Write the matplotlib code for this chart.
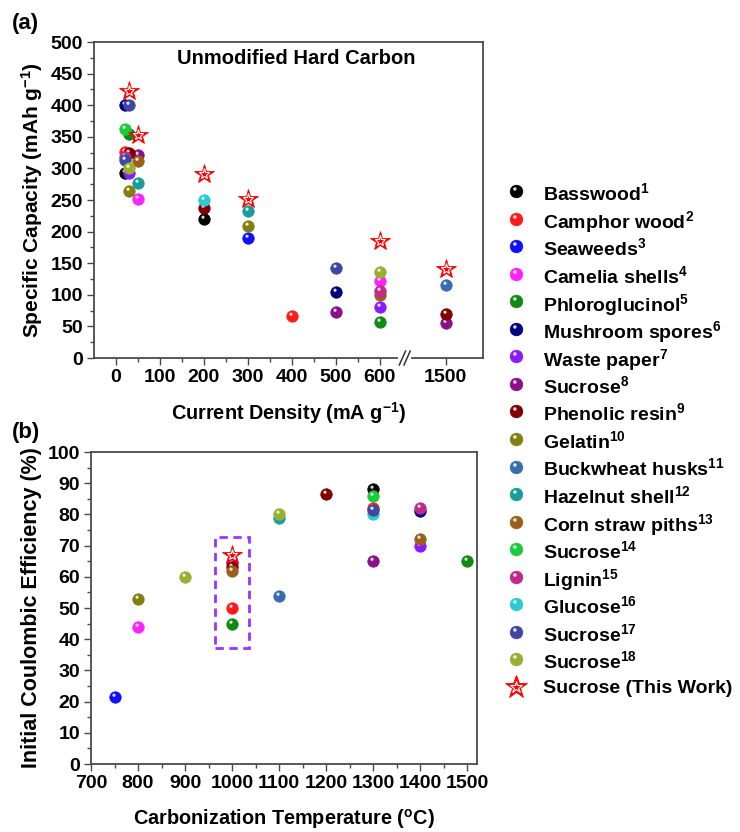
import numpy as np
import matplotlib
matplotlib.use("Agg")
import matplotlib.pyplot as plt
from matplotlib.path import Path
from matplotlib.patches import Rectangle
from matplotlib.ticker import MultipleLocator, FixedLocator

plt.rcParams['font.family'] = ['Liberation Sans', 'DejaVu Sans']
plt.rcParams['font.weight'] = 'bold'
plt.rcParams['axes.labelweight'] = 'bold'
plt.rcParams['mathtext.fontset'] = 'custom'
plt.rcParams['mathtext.rm'] = 'Liberation Sans:bold'
plt.rcParams['mathtext.bf'] = 'Liberation Sans:bold'
plt.rcParams['mathtext.default'] = 'bf'

# --- literature data -------------------------------------------------------
names = ["Basswood", "Camphor wood", "Seaweeds", "Camelia shells", "Phloroglucinol",
         "Mushroom spores", "Waste paper", "Sucrose", "Phenolic resin", "Gelatin",
         "Buckwheat husks", "Hazelnut shell", "Corn straw piths", "Sucrose", "Lignin",
         "Glucose", "Sucrose", "Sucrose"]
colors = ["#000000", "#ff1a1a", "#1010ff", "#ff22ff", "#108a10",
          "#000080", "#8a1aff", "#8a108a", "#800000", "#808010",
          "#3a6db0", "#1a9c9c", "#9c5f1a", "#1acc3a", "#c02a8a",
          "#2acad0", "#3f48a0", "#98b030"]

# current density (mA/g) and specific capacity (mAh/g)
rate = [[20, 200], [20, 400], [300], [50, 600], [30, 600],
        [20, 500], [30, 600], [50, 500, 1500], [30, 200, 1500], [30, 300],
        [1500], [50, 300], [50, 600], [20], [20, 600],
        [200], [30, 20, 500], [30, 600]]
capacity = [[293, 220], [326, 67], [190], [251, 122], [355, 57],
            [400, 104], [293, 81], [322, 73, 55], [324, 237, 70], [264, 209],
            [116], [277, 233], [311, 100], [362], [318, 106],
            [250], [400, 313, 142], [300, 136]]

# carbonization temperature (C) and initial coulombic efficiency (%)
temp = [[1300], [1000, 1300], [750], [800], [1000, 1500],
        [1400], [1400, 1000], [1300], [1200, 1000], [800],
        [1100], [1100], [1000, 1400], [1300], [1400],
        [1300], [1300], [900, 1100]]
ice = [[88], [50, 82], [21.5], [44], [45, 65],
       [81], [70, 64.5], [65], [86.5, 63], [53],
       [54], [79], [62, 72], [86], [82],
       [80], [81.5], [60, 80]]

# this work
work_rate = [30, 50, 200, 300, 600, 1500]
work_cap = [423, 353, 291, 252, 185, 141]
work_temp = [1000]
work_ice = [67]

rate_ticks = [0, 100, 200, 300, 400, 500, 600, 1500]


def cd_pos(v):
    # compress the axis between 600 and 1500 mA/g
    v = np.asarray(v, dtype=float)
    return np.where(v > 650, v - 750, v)


# small white spot sitting at the upper left of a ball marker
circ = Path.circle(center=(-0.13, 0.2), radius=0.14)
shine = Path(np.vstack([[0.5, 0.5], circ.vertices]),
             np.concatenate([[Path.MOVETO], circ.codes]))

MS = 8.2


def ball(ax, x, y, c, ms=MS, **kw):
    ax.plot(x, y, ls='none', marker='o', ms=ms, mfc=c, mec=c, mew=0.6, **kw)
    ax.plot(x, y, ls='none', marker=shine, ms=ms, mfc='white', mec='none',
            alpha=0.85, **kw)


def star(ax, x, y, ms=15, **kw):
    ax.plot(x, y, ls='none', marker='*', ms=ms, mfc='red', mec='red', mew=0.6,
            zorder=5, **kw)
    ax.plot(x, y, ls='none', marker='*', ms=ms * 0.53, mfc='none', mec='white',
            mew=0.8, zorder=6, **kw)


fig = plt.figure(figsize=(7.4, 8.32), dpi=100)
ax1 = fig.add_axes([0.127, 0.5697, 0.5257, 0.3798])
ax2 = fig.add_axes([0.123, 0.0817, 0.5216, 0.375])

for i in range(len(names)):
    ball(ax1, cd_pos(rate[i]), capacity[i], colors[i])
    ball(ax2, temp[i], ice[i], colors[i])
star(ax1, cd_pos(work_rate), work_cap)
star(ax2, work_temp, work_ice)

for ax in (ax1, ax2):
    for s in ax.spines.values():
        s.set_color('#4a4a4a')
        s.set_linewidth(1.3)
    ax.tick_params(which='both', direction='out', width=1.0, color='#4a4a4a',
                   labelsize=14, top=False, right=False)
    ax.tick_params(which='major', length=5, pad=3)
    ax.tick_params(which='minor', length=3)

# panel (a)
ax1.set_xlim(-50, 835)
ax1.set_ylim(0, 500)
ax1.xaxis.set_major_locator(FixedLocator(cd_pos(rate_ticks)))
ax1.set_xticklabels([str(t) for t in rate_ticks])
ax1.xaxis.set_minor_locator(FixedLocator(np.arange(50, 600, 100)))
ax1.yaxis.set_major_locator(MultipleLocator(50))
ax1.yaxis.set_minor_locator(MultipleLocator(25))
ax1.set_xlabel('Current Density (mA g$^{-1}$)', fontsize=14.3, labelpad=10)
ax1.set_ylabel('Specific Capacity (mAh g$^{-1}$)', fontsize=15, labelpad=4)
ax1.text(0.519, 0.949, 'Unmodified Hard Carbon', transform=ax1.transAxes,
         ha='center', va='center', fontsize=14.5)

# axis break marks
bx = (657 + 50) / 885
ax1.plot([bx - 0.012, bx + 0.012], [0, 0], color='white', lw=3,
         transform=ax1.transAxes, clip_on=False, zorder=10)
for dx in (-0.006, 0.006):
    ax1.plot([bx + dx - 0.008, bx + dx + 0.008], [-0.022, 0.022], color='#333333',
             lw=1.1, transform=ax1.transAxes, clip_on=False, zorder=11)

# panel (b)
ax2.set_xlim(700, 1521)
ax2.set_ylim(0, 100)
ax2.xaxis.set_major_locator(MultipleLocator(100))
ax2.xaxis.set_minor_locator(MultipleLocator(50))
ax2.yaxis.set_major_locator(MultipleLocator(10))
ax2.yaxis.set_minor_locator(MultipleLocator(5))
ax2.set_xlabel('Carbonization Temperature ($^{\\mathrm{o}}$C)', fontsize=14.3,
               labelpad=11)
ax2.set_ylabel('Initial Coulombic Efficiency (%)', fontsize=15.5, labelpad=4)
ax2.add_patch(Rectangle((964, 37.2), 72, 35.6, fill=False, ls=(0, (3, 2)),
                        ec='#9933ff', lw=2, zorder=1))

fig.text(0.016, 0.972, '(a)', fontsize=16, va='center')
fig.text(0.016, 0.480, '(b)', fontsize=16, va='center')

# legend drawn on a pixel-space overlay
lax = fig.add_axes([0, 0, 1, 1])
lax.set_xlim(0, 740)
lax.set_ylim(832, 0)
lax.axis('off')
labels = [f'{n}$^{{{i + 1}}}$' for i, n in enumerate(names)]
row = 27.55
for i, (lab, c) in enumerate(zip(labels, colors)):
    y = 191 + i * row
    ball(lax, [516], [y], c, ms=9)
    lax.text(543, y, lab, fontsize=14, va='center_baseline', ha='left')
y = 191 + len(names) * row
star(lax, [516], [y], ms=17)
lax.text(543, y, 'Sucrose (This Work)', fontsize=14, va='center_baseline', ha='left')

fig.savefig('out.png', dpi=100)
